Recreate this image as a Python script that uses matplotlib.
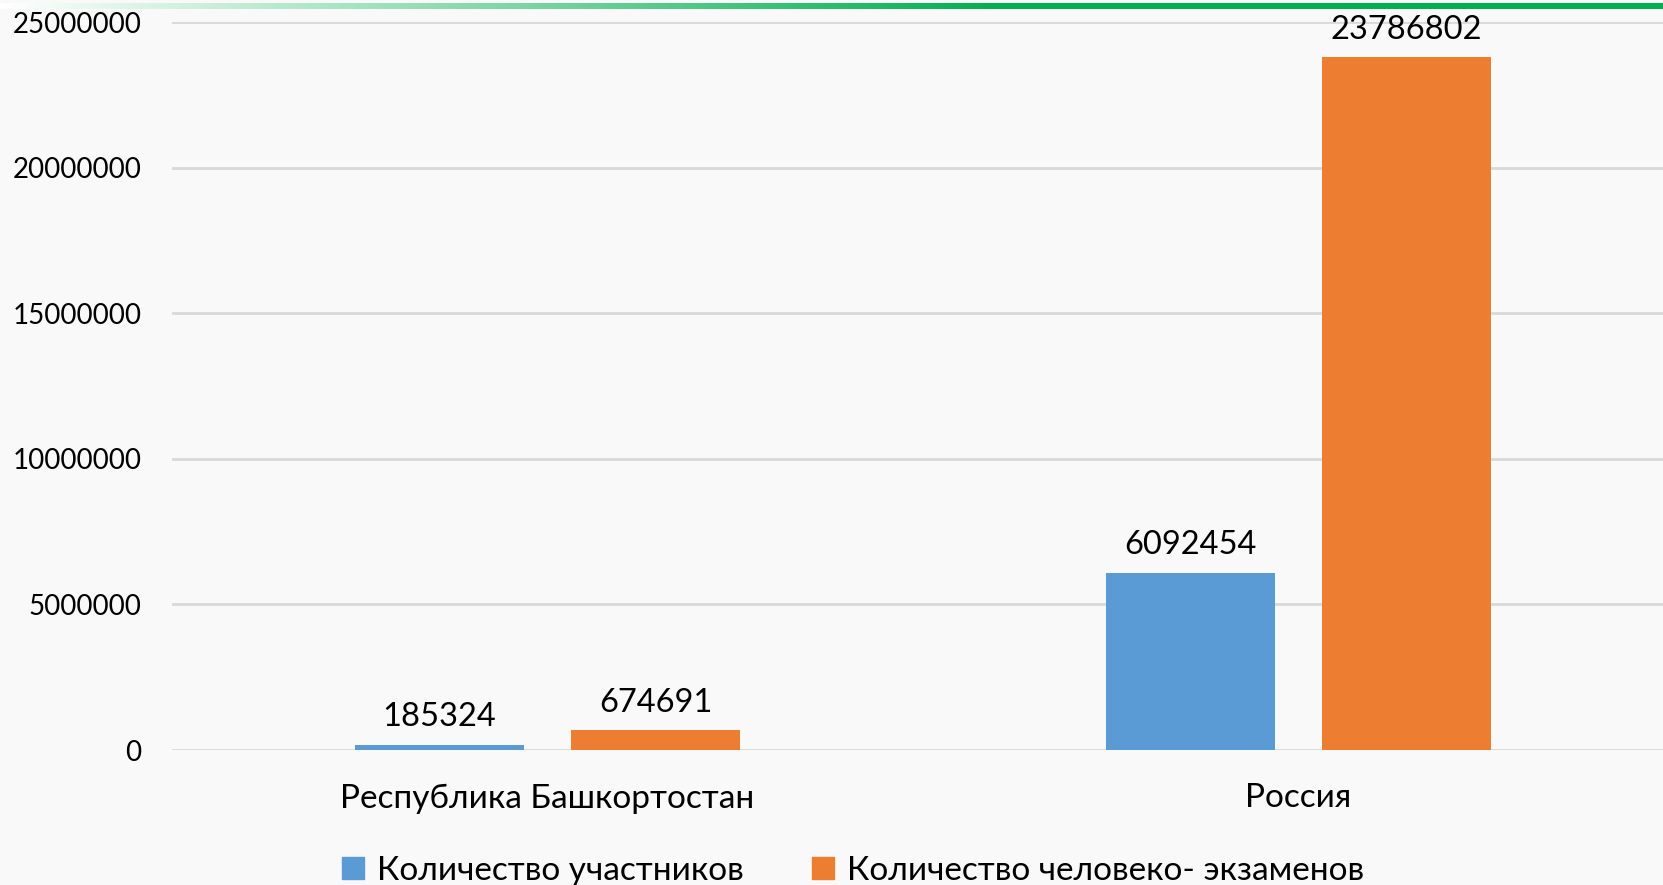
import numpy as np
import matplotlib.pyplot as plt
from matplotlib.patches import Patch

categories = ['Республика Башкортостан', 'Россия']
participants = [185324, 6092454]
person_exams = [674691, 23786802]
series_names = ['Количество участников', 'Количество человеко- экзаменов']
yticks = [0, 5000000, 10000000, 15000000, 20000000, 25000000]

blue = '#5b9bd5'
orange = '#ed7d31'
bg = '#f9f9f9'

plt.rcParams['font.family'] = ['Lato', 'DejaVu Sans']

fig = plt.figure(figsize=(16.63, 8.85), dpi=100, facecolor=bg)
ax = fig.add_axes([172 / 1663, 0.1525, 1502 / 1663, 0.8226])
ax.set_facecolor(bg)

x = np.arange(len(categories))
w = 0.225
off = (w + 0.063) / 2
b1 = ax.bar(x - off, participants, w, color=blue, zorder=3)
b2 = ax.bar(x + off, person_exams, w, color=orange, zorder=3)

for bars, vals in [(b1, participants), (b2, person_exams)]:
    for r, v in zip(bars, vals):
        ax.annotate(str(v), (r.get_x() + r.get_width() / 2, v),
                    xytext=(0, 9), textcoords='offset points',
                    ha='center', va='bottom', fontsize=23.5, color='black')

ax.set_xlim(-0.5, 1.5)
ax.set_ylim(0, 25000000)
ax.set_yticks(yticks)
ax.set_yticklabels([str(t) for t in yticks], fontsize=20)
ax.set_xticks(x)
ax.set_xticklabels(categories, fontsize=24)
ax.tick_params(axis='y', length=0, pad=22)
ax.tick_params(axis='x', length=0, pad=24)
ax.grid(axis='y', color='#d9d9d9', linewidth=2, zorder=0)
ax.set_axisbelow(True)
for s in ax.spines.values():
    s.set_visible(False)

handles = [Patch(color=blue), Patch(color=orange)]
fig.legend(handles, series_names, loc='center', bbox_to_anchor=(0.513, 0.016),
           ncol=2, frameon=False, fontsize=24, handlelength=0.65,
           handleheight=0.65, handletextpad=0.4, columnspacing=2.05)

# полоса-градиент сверху
gax = fig.add_axes([0, 1 - 9 / 885, 1, 6 / 885])
grad = np.linspace(0, 1, 512)
grad = np.clip(grad / 0.6, 0, 1)
cols = np.ones((1, 512, 3))
g = np.array([0x00, 0xb0, 0x50]) / 255
for i in range(3):
    cols[0, :, i] = 1 - grad * (1 - g[i])
gax.imshow(cols, aspect='auto')
gax.axis('off')

fig.savefig('out.png', dpi=100, facecolor=bg)
